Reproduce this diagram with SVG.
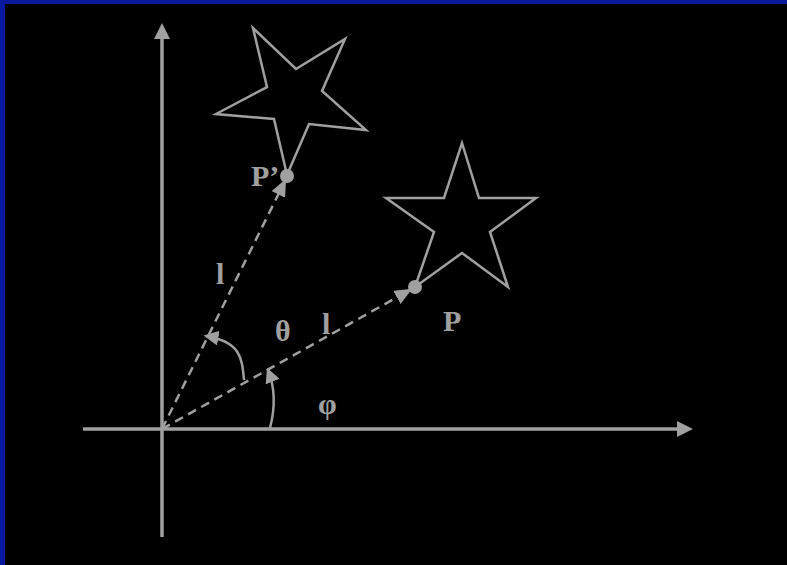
<svg xmlns="http://www.w3.org/2000/svg" width="787" height="565" viewBox="0 0 787 565">
<style>
.ax{stroke:#a0a0a0;stroke-width:3.5;fill:none}
.ds{stroke:#a0a0a0;stroke-width:2.5;fill:none;stroke-dasharray:9,6}
.st{stroke:#a0a0a0;stroke-width:2.5;fill:none;stroke-linejoin:miter}
.arc{stroke:#a0a0a0;stroke-width:2.5;fill:none}
.lb{font-family:"Liberation Serif","Times New Roman",serif;font-weight:bold;font-size:30px;fill:#a0a0a0}
.dot{fill:#a0a0a0}
</style>
<defs>
<marker id="ah" markerWidth="6" markerHeight="6" refX="5" refY="3" orient="auto" markerUnits="strokeWidth">
<path d="M0,0 L6,3 L0,6 z" fill="#a0a0a0"/>
</marker>
<marker id="ah2" markerWidth="7" markerHeight="6" refX="6" refY="3" orient="auto" markerUnits="strokeWidth">
<path d="M0,0 L7,3 L0,6 z" fill="#a0a0a0"/>
</marker>
</defs>
<rect x="0" y="0" width="787" height="565" fill="#000"/>
<rect x="0" y="0" width="787" height="4" fill="#0a1a9e"/>
<rect x="0" y="0" width="5" height="565" fill="#0a1a9e"/>

<g id="connectors">
<line id="xaxis" class="ax" x1="83" y1="429" x2="678" y2="429"/>
<path d="M677,421 L693,429 L677,437 z" fill="#a0a0a0"/>
<line id="yaxis" class="ax" x1="162" y1="537" x2="162" y2="38"/>
<path d="M154,39 L162,23 L170,39 z" fill="#a0a0a0"/>
<line class="ds" x1="162" y1="429" x2="410" y2="290" marker-end="url(#ah2)"/>
<line class="ds" x1="162" y1="429" x2="285" y2="181" marker-end="url(#ah2)"/>
<path class="arc" d="M270,428 C276,405 274,385 268,370" marker-end="url(#ah)"/>
<path class="arc" d="M244,380 C242,358 241,342 206,336" marker-end="url(#ah)"/>
</g>

<g id="star-p">
<polygon class="st" points="462,143 479,198 536,198 490,232 508,287 462,253 415,287 434,232 386,198 444,198"/>
<circle class="dot" cx="415" cy="287" r="7"/>
<text class="lb" x="443" y="331">P</text>
</g>

<g id="star-p-prime">
<polygon class="st" points="253,28 296,69 345,39 322,91 366,130 309,124 287,175 274,119 216,114 267,87"/>
<circle class="dot" cx="287" cy="176" r="7"/>
<text class="lb" x="251" y="186">P’</text>
</g>

<g id="labels">
<text class="lb" x="216" y="284">l</text>
<text class="lb" x="322" y="334">l</text>
<text class="lb" x="275" y="341">θ</text>
<text class="lb" x="318" y="414">φ</text>
</g>
</svg>
